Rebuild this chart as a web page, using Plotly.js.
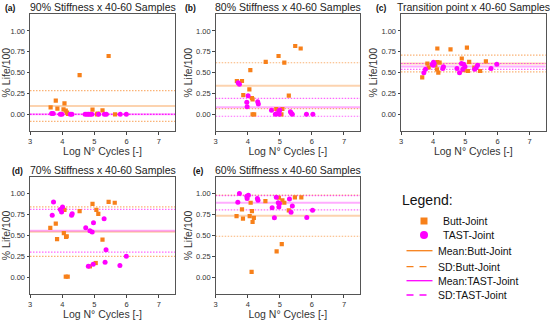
<!DOCTYPE html>
<html><head><meta charset="utf-8">
<script src="https://cdn.plot.ly/plotly-3.0.1.min.js"></script>
<style>html,body{margin:0;padding:0;background:#fff}#chart{width:550px;height:320px}</style>
</head><body><div id="chart"></div>
<script>
const panelLabels = ['(a)', '(b)', '(c)', '(d)', '(e)'];
const panelTitles = ['90% Stiffness x 40-60 Samples', '80% Stiffness x 40-60 Samples',
  'Transition point x 40-60 Samples', '70% Stiffness x 40-60 Samples', '60% Stiffness x 40-60 Samples'];
const xTicks = [3, 4, 5, 6, 7];
const yTicks = [0, 0.25, 0.5, 0.75, 1.0];

// (a) 90% stiffness
const aButtX = [3.64, 3.80, 3.85, 4.04, 4.07, 4.11, 4.15, 4.18, 4.54, 4.94, 5.08, 5.10, 5.25, 5.44, 5.64];
const aButtY = [0.084, 0.164, 0.068, 0.06, 0.132, 0.044, 0.02, 0.004, 0.47, 0.056, 0.0, 0.01, 0.048, 0.70, 0.0];
const aTastX = [3.67, 3.72, 3.94, 3.99, 4.25, 4.30, 4.71, 4.77, 4.82, 4.87, 4.92, 5.13, 5.31, 5.37, 5.80, 5.99];
const aTastY = [0.01, 0.01, 0, 0, 0, 0, 0, 0, 0, 0, 0, 0, 0, 0, 0, 0];
// (b) 80% stiffness
const bButtX = [3.66, 3.82, 3.86, 4.05, 4.08, 4.13, 4.15, 4.15, 4.20, 4.56, 4.89, 4.96, 5.05, 5.08, 5.14, 5.28, 5.48, 5.65];
const bButtY = [0.40, 0.40, 0.23, 0.30, 0.53, 0.196, 0.18, 0.0, 0.0, 0.63, 0.064, 0.70, 0.0, 0.064, 0.62, 0.224, 0.82, 0.79];
const bTastX = [3.70, 3.74, 4.01, 3.97, 3.98, 4.31, 4.33, 4.74, 4.86, 4.89, 4.97, 5.00, 4.98, 5.33, 5.36, 5.39, 5.83, 6.03];
const bTastY = [0.38, 0.36, 0.224, 0.144, 0.092, 0.152, 0.124, 0.048, 0.0, 0.008, 0.04, 0.052, 0.0, 0.032, 0.012, 0.0, 0.0, 0.0];
// (c) transition point
const cButtX = [3.66, 3.82, 3.86, 4.07, 4.12, 4.13, 4.13, 4.16, 4.20, 4.54, 4.89, 4.95, 5.05, 5.08, 5.12, 5.28, 5.46, 5.64];
const cButtY = [0.444, 0.61, 0.564, 0.59, 0.54, 0.79, 0.628, 0.50, 0.62, 0.78, 0.67, 0.53, 0.80, 0.52, 0.63, 0.56, 0.52, 0.636];
const cTastX = [3.71, 3.76, 3.97, 4.00, 4.01, 4.03, 4.30, 4.32, 4.74, 4.82, 4.88, 4.92, 4.95, 4.99, 5.29, 5.34, 5.38, 5.80, 5.98];
const cTastY = [0.50, 0.54, 0.60, 0.59, 0.625, 0.61, 0.55, 0.57, 0.55, 0.50, 0.61, 0.54, 0.60, 0.57, 0.54, 0.56, 0.59, 0.55, 0.60];
// (d) 70% stiffness
const dButtX = [3.63, 3.80, 3.84, 4.05, 4.07, 4.12, 4.14, 4.11, 4.17, 4.54, 4.86, 4.94, 5.04, 5.06, 5.12, 5.25, 5.44, 5.63];
const dButtY = [0.59, 0.64, 0.456, 0.527, 0.805, 0.483, 0.49, 0.007, 0.007, 0.79, 0.13, 0.876, 0.17, 0.805, 0.757, 0.45, 0.90, 0.89];
const dTastX = [3.69, 3.73, 3.94, 3.98, 4.01, 4.29, 4.31, 4.73, 4.81, 4.86, 4.93, 4.96, 4.97, 5.30, 5.33, 5.36, 5.79, 5.99];
const dTastY = [0.74, 0.90, 0.81, 0.78, 0.84, 0.74, 0.76, 0.59, 0.13, 0.555, 0.54, 0.155, 0.65, 0.70, 0.18, 0.33, 0.14, 0.25];
// (e) 60% stiffness
const eButtX = [3.65, 3.82, 3.85, 4.06, 4.09, 4.12, 4.13, 4.15, 4.19, 4.55, 4.90, 4.97, 5.06, 5.08, 5.14, 5.28, 5.47, 5.67];
const eButtY = [0.73, 0.81, 0.70, 0.73, 0.89, 0.064, 0.79, 0.66, 0.71, 0.91, 0.31, 0.95, 0.396, 0.92, 0.89, 0.80, 0.955, 0.955];
const eTastX = [3.69, 3.74, 3.97, 3.98, 4.02, 4.30, 4.32, 4.76, 4.83, 4.89, 4.95, 4.97, 4.99, 5.30, 5.35, 5.39, 5.84, 6.02];
const eTastY = [0.895, 1.00, 0.968, 0.94, 0.98, 0.94, 0.92, 0.83, 0.71, 0.955, 0.89, 0.84, 0.88, 0.935, 0.776, 0.85, 0.715, 0.80];

// mean and standard deviation per panel (a..e)
const buttMean = [0.10, 0.344, 0.61, 0.545, 0.735];
const buttSD   = [0.185, 0.275, 0.10, 0.295, 0.245];
const tastMean = [0.0, 0.084, 0.575, 0.555, 0.89];
const tastSD   = [0.0, 0.107, 0.035, 0.255, 0.085];

const legendNames = ['Butt-Joint', 'TAST-Joint', 'Mean:Butt-Joint', 'SD:Butt-Joint', 'Mean:TAST-Joint', 'SD:TAST-Joint'];

const ORANGE = '#f7801a', MAGENTA = '#ff00ff';
const FONT = 'Liberation Sans, Arial, sans-serif';
const W = 550, H = 320;

const butt = [[aButtX, aButtY], [bButtX, bButtY], [cButtX, cButtY], [dButtX, dButtY], [eButtX, eButtY]];
const tast = [[aTastX, aTastY], [bTastX, bTastY], [cTastX, cTastY], [dTastX, dTastY], [eTastX, eTastY]];

// pixel layout of plot areas
const xDom = [[30, 175], [215.7, 360], [401, 545.7], [30, 175], [215.7, 360]];
const yDomPx = [[14.3, 131], [14.3, 131], [14.3, 131], [176.8, 294], [176.8, 294]];

const traces = [];
const layout = {
  width: W, height: H, margin: {l: 0, r: 0, t: 0, b: 0},
  paper_bgcolor: '#fff', plot_bgcolor: '#fff', showlegend: false,
  font: {family: FONT, color: '#222'},
  shapes: [], annotations: []
};

for (let i = 0; i < 5; i++) {
  const n = i === 0 ? '' : String(i + 1);
  const xa = 'x' + n, ya = 'y' + n;
  traces.push({x: butt[i][0], y: butt[i][1], xaxis: xa, yaxis: ya, type: 'scatter', mode: 'markers',
    marker: {symbol: 'square', size: 4.2, color: ORANGE}, hoverinfo: 'skip'});
  traces.push({x: tast[i][0], y: tast[i][1], xaxis: xa, yaxis: ya, type: 'scatter', mode: 'markers',
    marker: {symbol: 'circle', size: 5, color: MAGENTA}, hoverinfo: 'skip'});
  const axX = {
    domain: [xDom[i][0] / W, xDom[i][1] / W], anchor: ya, range: [3, 7.5],
    tickvals: xTicks, ticktext: xTicks.map(String), ticks: 'outside', ticklen: 2.5, tickcolor: '#444',
    showline: true, linecolor: '#555', linewidth: 1, mirror: true, showgrid: false, zeroline: false,
    tickfont: {size: 7.5, family: FONT, color: '#333'},
    title: {text: 'Log N° Cycles [-]', font: {size: 10.5, family: FONT, color: '#333'}, standoff: i >= 3 ? 6 : 3}
  };
  const axY = {
    domain: [1 - yDomPx[i][1] / H, 1 - yDomPx[i][0] / H], anchor: xa, range: [-0.2, 1.2],
    tickvals: yTicks, ticktext: yTicks.map(v => v.toFixed(2)), ticks: 'outside', ticklen: 2.5, tickcolor: '#444',
    showline: true, linecolor: '#555', linewidth: 1, mirror: true, showgrid: false, zeroline: false,
    tickfont: {size: 7.5, family: FONT, color: '#333'},
    title: {text: '% Life/100', font: {size: 10.5, family: FONT, color: '#333'}, standoff: 1}
  };
  layout['xaxis' + n] = axX;
  layout['yaxis' + n] = axY;

  const hl = (yv, color, width, dash) => ({type: 'line', layer: 'below', xref: xa + ' domain', x0: 0, x1: 1,
    yref: ya, y0: yv, y1: yv, line: {color: color, width: width, dash: dash}});
  layout.shapes.push(hl(buttMean[i], 'rgba(247,128,26,0.35)', 2, 'solid'));
  layout.shapes.push(hl(buttMean[i] + buttSD[i], 'rgba(247,128,26,0.6)', 1.2, '1.5px,1.5px'));
  layout.shapes.push(hl(buttMean[i] - buttSD[i], 'rgba(247,128,26,0.6)', 1.2, '1.5px,1.5px'));
  layout.shapes.push(hl(tastMean[i], 'rgba(255,0,255,0.32)', 2, 'solid'));
  layout.shapes.push(hl(tastMean[i] + tastSD[i], 'rgba(255,0,255,0.6)', 1.2, '1.5px,1.5px'));
  layout.shapes.push(hl(tastMean[i] - tastSD[i], 'rgba(255,0,255,0.6)', 1.2, '1.5px,1.5px'));

  const cx = (xDom[i][0] + xDom[i][1]) / 2 / W;
  layout.annotations.push({text: panelTitles[i], xref: 'paper', yref: 'paper', x: cx, y: 1 - yDomPx[i][0] / H,
    xanchor: 'center', yanchor: 'bottom', yshift: -1, showarrow: false, font: {size: 10.5, family: FONT, color: '#222'}});
}
// panel letters
const labelPos = [[3, 8], [183, 8], [374, 8], [10, 171], [191, 171]];
labelPos.forEach((p, i) => layout.annotations.push({text: '<b>' + panelLabels[i] + '</b>', xref: 'paper', yref: 'paper',
  x: p[0] / W, y: 1 - p[1] / H, xanchor: 'left', yanchor: 'middle', showarrow: false, font: {size: 8.5, family: FONT, color: '#111'}}));

// legend (drawn manually)
const px = v => v / W, py = v => 1 - v / H;
layout.annotations.push({text: 'Legend:', xref: 'paper', yref: 'paper', x: px(400), y: py(200), xanchor: 'left', yanchor: 'middle',
  showarrow: false, font: {size: 14, family: FONT, color: '#111'}});
const legRows = [221, 235, 250.7, 266.7, 280.7, 295];
layout.shapes.push({type: 'rect', xref: 'paper', yref: 'paper', x0: px(420.5), x1: px(427.5), y0: py(224.5), y1: py(217.5),
  fillcolor: ORANGE, line: {width: 0}});
layout.shapes.push({type: 'circle', xref: 'paper', yref: 'paper', x0: px(420), x1: px(428), y0: py(239), y1: py(231),
  fillcolor: MAGENTA, line: {width: 0}});
const legLine = (y, color, dash) => ({type: 'line', xref: 'paper', yref: 'paper', x0: px(406.5), x1: px(432.5), y0: py(y), y1: py(y),
  line: {color: color, width: 1.3, dash: dash}});
layout.shapes.push(legLine(legRows[2], ORANGE, 'solid'));
layout.shapes.push(legLine(legRows[3], ORANGE, '7px,6px'));
layout.shapes.push(legLine(legRows[4], MAGENTA, 'solid'));
layout.shapes.push(legLine(legRows[5], MAGENTA, '7px,6px'));
legendNames.forEach((t, k) => layout.annotations.push({text: t, xref: 'paper', yref: 'paper',
  x: px(k < 2 ? 440.5 : 436), y: py(legRows[k]), xanchor: 'left', yanchor: 'middle', showarrow: false,
  font: {size: 10.5, family: FONT, color: '#111'}}));

Plotly.newPlot('chart', traces, layout, {staticPlot: true, displayModeBar: false});
</script></body></html>
